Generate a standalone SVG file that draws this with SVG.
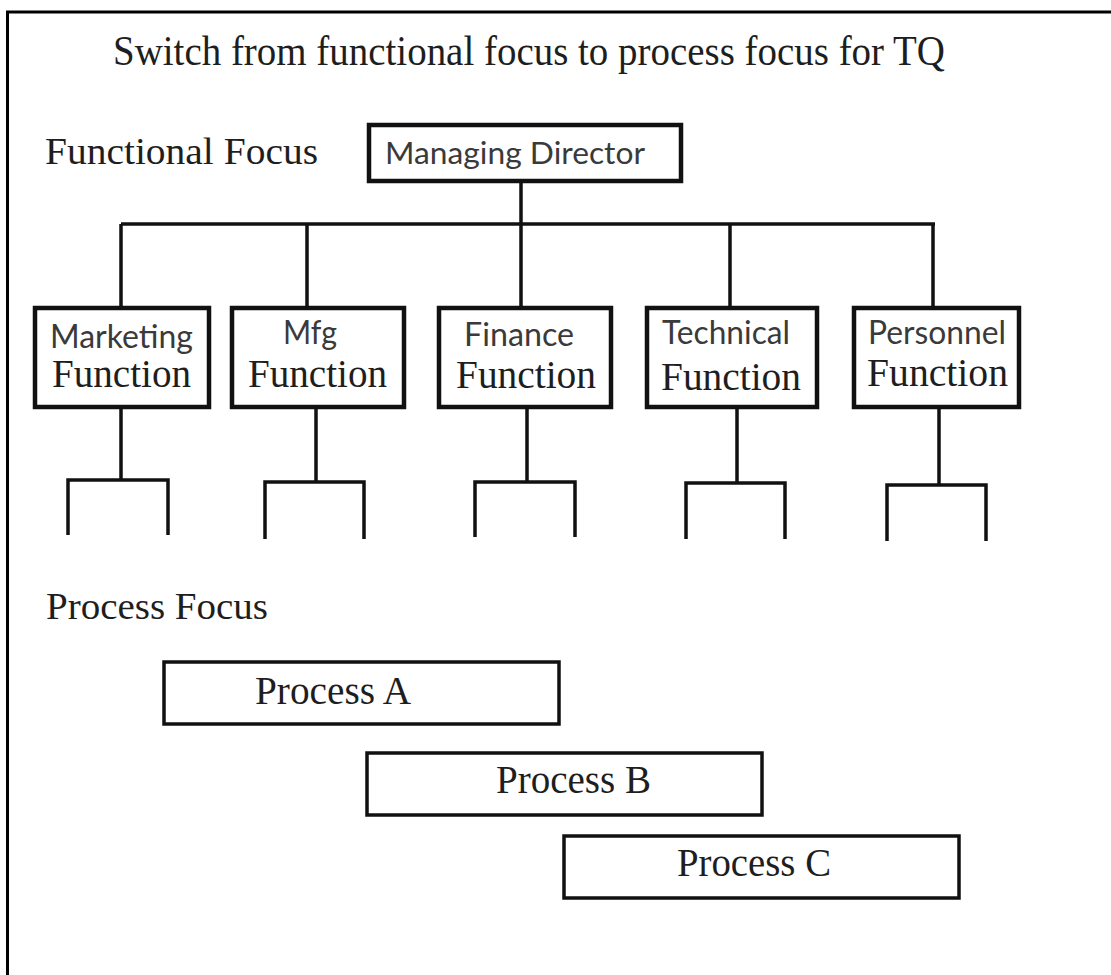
<svg xmlns="http://www.w3.org/2000/svg" width="1111" height="975" viewBox="0 0 1111 975">
  <style>
    .frame { fill: none; stroke: #000; stroke-width: 3; }
    .box { fill: #fff; stroke: #111; stroke-width: 4.5; }
    .pbox { fill: #fff; stroke: #111; stroke-width: 3.5; }
    .line { fill: none; stroke: #111; stroke-width: 3.5; }
    .serif { font-family: "Liberation Serif", "Times New Roman", serif; fill: #1e1e1e; }
    .sans { font-family: Lato, "Liberation Sans", Arial, sans-serif; fill: #3a3a3a; }
    .title { font-size: 42px; }
    .head { font-size: 38px; }
    .fn { font-size: 40px; }
    .dept { font-size: 33px; }
    .proc { font-size: 39px; }
  </style>
  <rect width="1111" height="975" fill="#fff"/>

  <!-- page frame: top and left edges only -->
  <path class="frame" d="M7.5 975 V12 H1111"/>

  <text class="serif title" x="113" y="65" textLength="832" lengthAdjust="spacingAndGlyphs">Switch from functional focus to process focus for TQ</text>
  <text class="serif head" x="45" y="164" textLength="273" lengthAdjust="spacingAndGlyphs">Functional Focus</text>
  <text class="serif head" x="46" y="619" textLength="222" lengthAdjust="spacingAndGlyphs">Process Focus</text>

  <!-- connectors of the functional hierarchy -->
  <g id="connectors">
    <path class="line" d="M521 183 V224"/>
    <path class="line" d="M121 224 H935"/>
    <path class="line" d="M121 224 V307 M307 224 V307 M521 224 V307 M730 224 V307 M933 224 V307"/>
    <!-- sub-branches below each function -->
    <path class="line" d="M121 408 V480 M68 535 V480 H168 V535"/>
    <path class="line" d="M316 408 V482 M265 539 V482 H364 V539"/>
    <path class="line" d="M527 408 V482 M475 537 V482 H575 V537"/>
    <path class="line" d="M737 408 V483 M686 539 V483 H785 V539"/>
    <path class="line" d="M939 408 V485 M887 541 V485 H986 V541"/>
  </g>

  <g id="managing-director">
    <rect class="box" x="369" y="125" width="312" height="56"/>
    <text class="sans" x="385" y="164" font-size="30" textLength="260" lengthAdjust="spacingAndGlyphs">Managing Director</text>
  </g>

  <g id="marketing">
    <rect class="box" x="35" y="308" width="174" height="99"/>
    <text class="sans dept" x="50" y="348" textLength="143" lengthAdjust="spacingAndGlyphs">Marketing</text>
    <text class="serif fn" x="52" y="387" textLength="139" lengthAdjust="spacingAndGlyphs">Function</text>
  </g>

  <g id="mfg">
    <rect class="box" x="232" y="308" width="172" height="99"/>
    <text class="sans dept" x="283" y="344" textLength="54" lengthAdjust="spacingAndGlyphs">Mfg</text>
    <text class="serif fn" x="248" y="387" textLength="139" lengthAdjust="spacingAndGlyphs">Function</text>
  </g>

  <g id="finance">
    <rect class="box" x="439" y="308" width="172" height="99"/>
    <text class="sans dept" x="464" y="346" textLength="110" lengthAdjust="spacingAndGlyphs">Finance</text>
    <text class="serif fn" x="456" y="388" textLength="140" lengthAdjust="spacingAndGlyphs">Function</text>
  </g>

  <g id="technical">
    <rect class="box" x="647" y="308" width="170" height="99"/>
    <text class="sans dept" x="662" y="344" textLength="128" lengthAdjust="spacingAndGlyphs">Technical</text>
    <text class="serif fn" x="661" y="390" textLength="140" lengthAdjust="spacingAndGlyphs">Function</text>
  </g>

  <g id="personnel">
    <rect class="box" x="854" y="308" width="165" height="99"/>
    <text class="sans dept" x="868" y="344" textLength="138" lengthAdjust="spacingAndGlyphs">Personnel</text>
    <text class="serif fn" x="867" y="386" textLength="141" lengthAdjust="spacingAndGlyphs">Function</text>
  </g>

  <g id="process-a">
    <rect class="pbox" x="164" y="662" width="395" height="62"/>
    <text class="serif proc" x="255" y="704" textLength="156" lengthAdjust="spacingAndGlyphs">Process A</text>
  </g>

  <g id="process-b">
    <rect class="pbox" x="367" y="753" width="395" height="62"/>
    <text class="serif proc" x="496" y="793" textLength="155" lengthAdjust="spacingAndGlyphs">Process B</text>
  </g>

  <g id="process-c">
    <rect class="pbox" x="564" y="836" width="395" height="62"/>
    <text class="serif proc" x="677" y="876" textLength="154" lengthAdjust="spacingAndGlyphs">Process C</text>
  </g>
</svg>
